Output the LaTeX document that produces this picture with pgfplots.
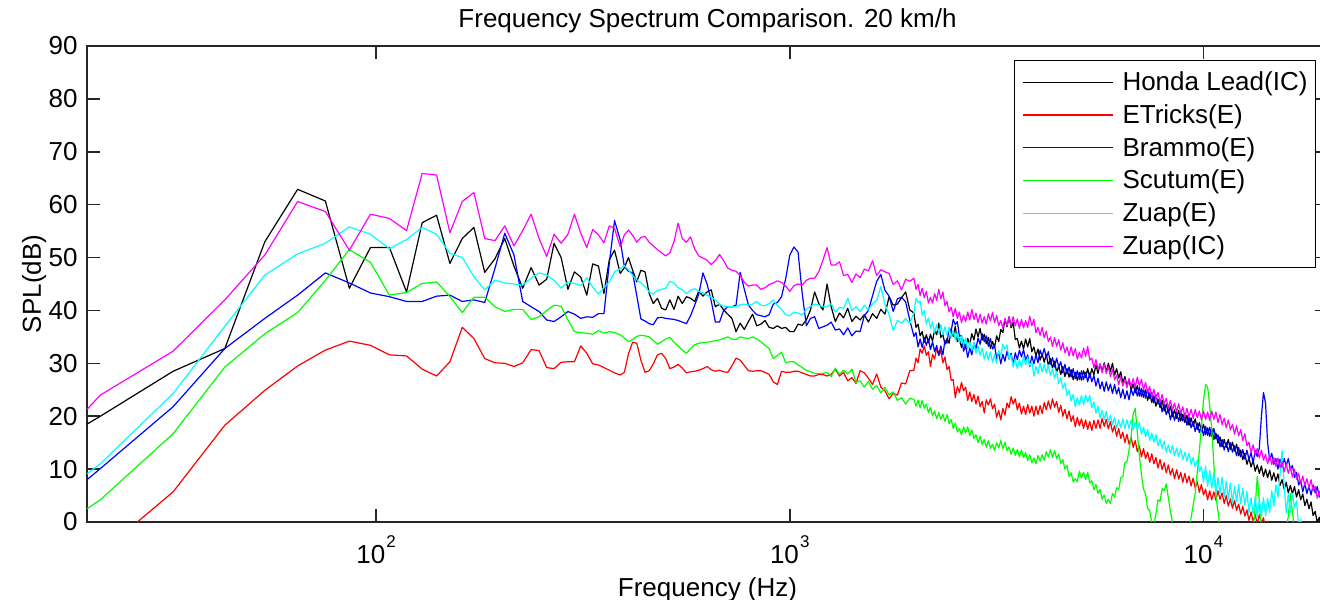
\documentclass[border=0pt]{standalone}
\usepackage{fontspec}
\setmainfont{Liberation Sans}
\usepackage{pgfplots}
\usepackage{pgfplotstable}
\pgfplotsset{compat=1.18}
\definecolor{mblack}{rgb}{0,0,0}
\definecolor{mred}{rgb}{1,0,0}
\definecolor{mblue}{rgb}{0,0,1}
\definecolor{mgreen}{rgb}{0,1,0}
\definecolor{mcyan}{rgb}{0,1,1}
\definecolor{mmagenta}{rgb}{1,0,1}

% lx = log10(frequency in Hz); values in dB
\pgfplotstableread{
lx bk rd bl gr cy mg
1.30103 18.5 -8.0 8.0 2.5 9.1 21.3
1.3333 20.0 -5.9 10.1 4.2 11.0 24.0
1.5092 28.5 5.7 21.8 16.7 24.3 32.3
1.6342 32.8 18.3 32.8 29.3 37.0 42.0
1.7310 53.0 24.9 38.5 35.6 46.7 50.5
1.8102 62.9 29.5 42.9 39.6 50.7 60.6
1.8772 60.7 32.5 47.1 45.7 52.7 58.7
1.9352 44.2 34.2 45.2 51.5 55.8 51.4
1.9863 51.9 33.4 43.3 49.1 54.4 58.2
2.0321 51.9 31.6 42.6 42.9 51.7 57.4
2.0735 43.5 31.4 41.7 43.4 53.4 55.1
2.1113 56.6 28.9 41.7 45.1 55.7 65.9
2.1461 58.0 27.6 42.7 45.4 54.4 65.6
2.1783 48.9 30.3 42.9 42.6 50.8 54.7
2.2082 53.6 36.8 41.7 39.6 50.0 60.6
2.2363 55.7 34.7 42.0 42.5 46.4 62.3
2.2625 47.2 30.9 41.5 42.5 43.9 53.6
2.2874 49.8 30.1 48.0 40.7 45.7 53.2
2.3109 53.6 30.0 54.6 39.8 45.2 56.0
2.3331 48.4 29.4 50.5 40.2 45.0 52.2
2.3543 44.2 30.1 41.7 40.2 44.8 55.1
2.3746 48.1 32.6 40.7 38.3 46.1 58.2
2.3939 44.8 32.4 39.8 38.8 47.1 53.6
2.4123 45.9 29.2 38.2 40.0 46.7 50.2
2.4301 52.7 29.0 37.9 41.0 45.7 54.4
2.4472 50.0 30.2 38.8 40.8 44.2 52.7
2.4636 44.0 30.3 39.8 38.2 45.4 54.4
2.4793 47.3 30.3 39.3 36.0 45.1 58.2
2.4946 46.3 33.3 38.5 35.8 44.7 54.6
2.5092 42.9 31.9 38.8 35.7 46.2 51.9
2.5235 48.8 29.9 38.7 35.5 44.4 55.3
2.5373 48.4 29.7 39.4 36.2 43.1 54.3
2.5507 43.2 29.2 39.4 35.7 44.3 52.8
2.5637 49.6 28.7 49.0 36.0 45.4 56.0
2.5763 51.4 28.2 57.0 35.8 47.3 55.5
2.59 47.0 27.8 53.3 35.4 47.9 52.0
2.60 48.1 28.3 48.3 34.8 48.5 54.3
2.61 50.0 31.8 47.4 34.1 47.7 55.2
2.62 47.6 34.0 47.1 34.5 46.6 54.2
2.63 45.4 33.8 42.8 35.1 45.8 52.9
2.64 47.6 30.6 38.4 35.3 45.2 53.8
2.65 47.3 28.3 38.0 35.2 44.5 54.0
2.66 43.2 28.6 37.5 35.0 43.5 52.9
2.67 41.3 29.9 37.3 34.3 43.1 52.2
2.68 42.3 31.6 38.6 33.6 43.8 51.5
2.69 40.4 31.9 38.7 34.1 44.0 50.9
2.70 40.1 30.9 38.5 34.6 44.2 50.3
2.71 42.0 29.0 38.4 34.9 45.5 50.9
2.72 40.2 29.3 38.3 34.0 45.2 53.0
2.73 42.7 29.8 38.1 33.3 44.3 56.5
2.74 41.3 29.1 37.8 32.5 43.9 53.6
2.75 42.6 28.2 37.5 31.9 43.2 52.9
2.76 42.3 28.4 39.0 32.8 43.8 53.9
2.77 41.7 28.5 41.0 33.5 44.1 51.6
2.78 43.7 28.7 43.1 33.8 43.6 50.3
2.79 42.7 29.0 47.1 33.9 43.3 49.9
2.80 43.5 29.4 45.0 34.0 42.9 49.5
2.81 43.9 28.8 41.8 34.1 42.5 48.7
2.82 40.7 28.5 37.8 34.3 42.0 49.4
2.83 41.2 28.7 37.8 34.4 41.1 50.6
2.84 40.1 28.4 40.0 34.7 40.8 49.4
2.85 39.3 28.3 40.7 35.0 40.7 48.0
2.86 38.5 29.5 40.7 34.6 40.7 47.6
2.87 36.0 31.0 41.0 34.5 40.7 47.4
2.88 37.6 30.6 47.2 35.0 41.1 46.6
2.89 36.4 29.6 44.0 34.8 41.2 45.3
2.90 37.9 28.6 41.0 34.7 41.0 44.6
2.91 39.3 28.5 40.0 35.0 41.2 44.8
2.92 37.1 28.6 39.2 34.6 41.7 44.8
2.93 37.4 28.6 39.0 34.1 41.0 44.0
2.94 38.1 28.3 38.8 33.4 40.9 44.3
2.95 36.8 27.9 39.2 32.8 41.3 44.9
2.96 36.6 26.5 41.2 30.9 42.0 45.2
2.97 37.1 26.0 41.5 31.5 40.9 45.6
2.98 36.6 28.5 42.6 32.1 40.2 45.3
2.99 36.8 28.3 46.0 30.1 39.2 44.6
3.00 36.0 28.3 50.5 30.3 39.0 43.6
3.01 36.0 28.5 52.0 30.3 39.7 44.7
3.02 37.4 28.5 51.0 29.7 39.5 45.0
3.03 37.2 28.2 43.2 29.2 39.2 44.8
3.04 38.2 27.9 37.1 28.7 40.2 45.7
3.05 40.1 27.6 38.5 28.4 40.8 46.1
3.06 43.5 27.6 38.8 28.1 41.2 46.1
3.07 41.3 27.9 36.6 28.1 41.0 47.3
3.08 40.1 27.9 36.9 28.1 40.7 49.5
3.09 45.0 27.6 37.2 28.3 40.7 51.9
3.10 40.7 27.9 37.8 27.5 41.3 48.6
3.11 37.9 28.9 36.3 29.1 39.7 48.6
3.12 39.5 27.6 36.5 27.9 40.6 49.2
3.13 38.6 28.3 35.4 28.7 40.4 46.6
3.14 40.4 26.7 36.7 28.0 42.3 46.8
3.15 37.9 27.3 35.2 28.9 40.0 45.3
3.16 38.9 26.2 36.1 26.4 40.7 46.9
3.17 38.2 28.6 36.0 26.7 39.8 46.2
3.18 39.2 28.2 39.0 25.5 41.0 47.8
3.19 37.8 27.2 40.0 26.6 40.1 47.5
3.20 39.4 26.0 42.8 25.1 41.3 49.4
3.21 38.5 28.0 45.5 25.8 41.9 46.6
3.22 40.2 25.5 46.8 24.4 44.5 47.7
3.23 39.3 24.8 43.8 25.5 41.2 47.3
3.24 42.6 23.3 42.7 24.0 39.2 47.0
3.25 41.0 24.3 39.8 24.6 36.2 44.9
3.26 41.2 24.0 42.2 23.0 38.1 45.6
3.27 42.4 26.3 42.5 23.5 37.6 43.9
3.28 43.5 26.1 41.6 22.3 38.5 45.9
3.29 40.1 28.6 38.2 23.4 37.5 45.5
3.300 39.5 28.7 35.1 23.2 39.6 46.1
3.305 36.8 31.0 35.8 21.9 42.3 44.0
3.310 37.4 30.1 33.1 23.0 41.5 44.9
3.315 35.2 32.7 34.6 21.6 41.8 42.8
3.320 36.0 31.9 33.0 23.0 39.1 44.2
3.325 34.0 33.3 34.9 21.5 40.0 42.4
3.330 35.4 31.5 33.4 22.3 37.4 43.6
3.335 33.9 32.2 34.6 20.7 38.6 41.4
3.340 35.5 29.4 32.6 21.7 36.6 42.5
3.345 34.2 31.7 34.1 20.1 37.9 41.4
3.350 36.3 30.8 32.2 21.0 35.8 43.2
3.355 35.4 32.9 33.4 19.5 37.3 41.9
3.360 37.6 31.5 31.5 20.7 35.7 44.0
3.365 34.9 32.4 33.3 19.4 37.3 42.2
3.370 35.5 30.1 31.6 20.4 35.4 43.5
3.375 33.6 31.2 34.3 19.0 36.9 40.9
3.380 34.7 28.8 33.8 20.3 35.3 41.7
3.385 33.8 29.4 36.7 18.6 36.8 39.7
3.390 36.3 26.8 36.1 19.4 34.9 40.6
3.395 35.1 26.9 38.3 17.7 36.2 38.8
3.400 37.0 23.5 37.3 18.7 34.5 40.4
3.405 34.1 25.6 37.9 17.0 35.9 38.5
3.410 34.6 24.5 35.1 17.7 33.8 39.7
3.415 33.0 26.4 35.3 16.5 35.2 37.7
3.420 34.4 24.8 32.3 18.0 33.4 39.1
3.425 32.9 25.5 33.4 16.8 34.8 37.9
3.430 34.7 23.0 31.1 18.0 32.7 39.7
3.435 33.6 24.6 32.9 16.3 34.1 38.2
3.440 35.6 22.8 31.6 17.4 32.4 40.2
3.445 34.4 24.1 33.9 15.8 33.9 38.3
3.450 36.5 22.3 32.8 16.5 31.9 39.5
3.455 35.0 23.8 34.8 15.0 33.3 37.7
3.460 36.6 21.8 33.6 16.2 31.5 39.3
3.465 34.4 22.8 35.6 14.7 32.9 37.6
3.470 35.5 20.6 34.1 15.6 30.8 38.8
3.475 33.7 23.1 35.2 14.1 32.2 37.4
3.480 34.9 22.1 33.2 15.4 30.6 39.4
3.485 32.8 23.3 34.7 13.9 32.2 38.0
3.490 34.1 21.4 32.7 14.7 30.2 39.6
3.495 33.1 22.3 33.4 13.5 31.7 37.7
3.500 35.2 19.8 30.9 15.0 30.0 39.1
3.505 34.1 21.1 32.1 14.0 32.4 37.1
3.510 36.4 19.3 29.9 15.4 31.4 38.1
3.515 35.8 21.5 31.7 13.9 33.6 36.6
3.520 38.3 20.2 30.4 15.1 32.7 38.5
3.525 36.9 22.5 32.3 13.5 33.5 37.1
3.530 38.8 21.6 30.8 14.2 30.8 38.8
3.535 36.7 23.7 31.9 12.8 31.6 37.1
3.540 37.7 22.3 29.8 14.0 29.3 38.8
3.545 34.5 23.3 32.0 12.6 30.9 37.1
3.550 34.7 21.2 30.7 13.7 29.0 38.4
3.555 32.9 22.5 32.5 12.3 30.7 36.6
3.560 34.2 20.4 31.2 13.6 29.3 38.3
3.565 32.7 21.9 32.6 12.2 31.3 36.7
3.570 34.6 20.3 30.6 13.1 29.7 38.1
3.575 33.1 22.2 31.6 11.6 31.2 36.8
3.580 34.7 20.6 29.4 12.7 29.6 38.9
3.585 32.2 21.9 31.4 11.2 30.3 37.1
3.590 33.1 20.0 29.9 12.1 27.6 38.3
3.595 31.4 21.9 31.6 11.0 29.4 35.8
3.600 32.7 20.3 30.1 12.6 28.1 36.8
3.605 30.6 22.0 32.5 11.5 30.0 35.3
3.610 31.8 20.5 31.4 12.7 28.4 36.8
3.615 30.2 22.6 32.8 11.7 29.9 34.8
3.620 31.7 21.2 31.1 13.3 28.2 36.1
3.625 29.6 22.9 32.2 12.3 29.7 34.1
3.630 30.9 21.4 29.8 13.7 27.7 35.0
3.635 29.1 23.3 31.1 12.2 29.0 33.2
3.640 30.4 21.7 29.3 13.5 27.2 34.9
3.645 28.3 22.8 31.0 12.0 28.5 33.2
3.650 29.5 20.7 29.3 12.9 26.2 34.5
3.655 27.9 22.1 30.3 11.0 27.3 32.5
3.660 29.4 20.0 28.2 11.8 25.3 33.9
3.665 27.5 21.3 29.8 10.0 26.3 32.0
3.670 29.0 19.5 28.0 10.7 23.9 33.1
3.675 27.4 21.0 29.3 8.6 24.9 31.4
3.680 28.8 19.0 27.4 9.3 22.9 33.1
3.685 26.9 20.1 29.0 7.6 24.1 31.4
3.690 28.3 18.0 27.1 8.2 21.8 32.8
3.695 26.8 19.8 28.6 7.6 23.5 30.8
3.700 28.3 18.2 26.9 9.6 22.1 32.1
3.705 26.8 19.5 28.6 8.3 23.9 31.0
3.710 28.6 17.7 26.9 9.4 22.2 32.9
3.715 27.3 19.3 28.3 8.0 24.0 31.3
3.720 29.0 17.5 26.5 9.4 22.7 33.2
3.725 27.3 19.0 28.2 7.4 23.9 30.6
3.730 29.0 17.3 26.5 7.8 21.6 31.0
3.735 27.8 19.2 27.7 6.1 22.7 29.2
3.740 29.7 17.7 25.7 7.1 20.6 30.7
3.745 28.1 19.3 27.2 5.4 21.9 28.8
3.750 29.9 17.7 25.2 6.2 19.7 29.9
3.755 28.5 19.6 26.5 4.3 21.1 28.2
3.760 30.1 18.1 24.7 5.1 19.4 29.9
3.765 28.4 19.4 26.5 3.5 20.9 28.1
3.770 30.0 17.6 24.8 4.3 18.9 29.4
3.775 28.5 19.0 26.1 3.5 20.2 27.5
3.780 30.0 17.0 24.3 5.4 18.4 28.9
3.785 27.8 18.2 26.0 4.7 19.8 26.9
3.790 29.0 16.2 24.2 6.5 17.7 27.8
3.795 27.2 17.7 25.4 6.1 19.3 25.9
3.800 28.4 15.8 23.5 8.4 17.8 27.5
3.805 26.3 17.0 25.1 8.6 19.5 25.7
3.810 27.5 15.0 23.3 11.2 17.7 27.0
3.815 25.7 16.6 24.8 11.4 19.3 25.4
3.820 27.0 14.7 23.1 13.6 17.7 27.1
3.825 24.9 16.0 25.2 16.0 19.3 25.6
3.830 26.1 14.1 23.9 20.5 17.4 27.1
3.835 24.4 15.4 25.4 21.5 18.9 25.5
3.840 25.8 13.3 23.8 17.0 17.4 27.4
3.845 23.8 14.4 25.5 12.5 18.8 25.7
3.850 25.2 12.3 23.7 9.0 16.6 27.0
3.855 23.6 13.9 25.1 6.2 17.9 25.0
3.860 25.0 12.0 23.4 5.3 16.1 26.4
3.865 23.0 13.2 25.1 2.5 17.5 24.5
3.870 24.4 11.3 23.3 2.2 15.4 25.6
3.875 22.6 12.9 24.5 -0.1 16.8 23.6
3.880 23.9 11.0 22.5 -0.5 15.1 25.1
3.885 21.9 12.2 24.1 1.5 16.5 23.3
3.890 23.2 10.2 22.3 4.2 14.4 24.5
3.895 21.6 11.8 23.1 3.9 15.7 22.6
3.900 23.0 9.9 20.8 6.3 13.9 24.1
3.905 21.0 11.2 22.3 5.9 15.3 22.3
3.910 22.3 9.3 20.3 7.2 13.2 23.4
3.915 20.6 10.8 21.4 4.6 14.6 21.5
3.920 21.9 8.9 19.3 2.0 13.0 23.0
3.925 19.9 10.1 21.0 0.0 14.5 21.2
3.930 21.2 8.2 19.2 -2.0 12.5 22.5
3.935 19.6 9.9 20.7 -3.0 14.0 20.8
3.940 21.1 8.1 19.0 -4.0 12.3 22.4
3.945 19.1 9.4 20.8 -4.0 13.8 20.6
3.950 20.4 7.5 19.1 -4.0 11.8 21.8
3.955 18.8 9.2 20.3 -3.5 13.2 19.9
3.960 20.2 7.4 18.3 -3.0 11.5 21.5
3.965 18.3 8.7 19.8 -1.1 13.0 19.9
3.970 19.7 6.8 17.8 0.8 10.9 21.3
3.975 18.1 8.3 19.0 3.2 12.2 19.6
3.980 19.5 6.4 17.1 5.5 10.4 21.3
3.985 17.5 7.6 18.7 9.5 11.7 19.7
3.990 18.8 5.6 16.9 13.5 9.5 21.0
3.995 17.1 7.1 18.2 18.0 10.5 19.3
4.000 18.5 5.1 16.3 23.0 7.5 21.0
4.005 16.5 6.2 18.1 26.0 10.6 19.4
4.010 17.8 4.2 16.4 25.5 6.7 20.8
4.015 16.2 5.9 17.9 22.0 9.7 19.2
4.020 17.7 4.2 16.2 17.5 6.4 21.0
4.025 15.6 5.7 17.7 11.0 9.3 19.4
4.030 16.8 4.1 15.7 5.0 5.4 20.8
4.035 14.9 5.9 16.5 2.0 8.4 18.8
4.040 16.1 4.3 14.2 -1.0 5.3 20.3
4.045 14.2 5.5 15.6 -3.0 8.5 18.4
4.050 15.6 3.5 13.6 -4.0 4.7 19.6
4.055 14.1 5.0 15.0 -5.0 7.7 17.8
4.060 15.6 3.0 13.3 -5.0 4.4 19.3
4.065 13.7 4.4 15.0 -5.0 7.4 17.4
4.070 15.1 2.6 13.2 -5.0 3.6 18.5
4.075 13.4 4.1 14.4 -5.0 6.7 16.6
4.080 14.7 2.2 12.5 -5.0 3.8 18.2
4.085 12.5 3.4 14.1 -5.0 7.1 16.3
4.090 13.6 1.5 12.3 -5.0 3.4 17.5
4.095 11.8 3.0 13.7 -5.0 6.4 15.4
4.100 13.0 1.1 11.9 -5.0 3.1 16.7
4.105 10.9 2.3 13.6 -5.0 5.8 14.4
4.110 12.1 0.3 11.8 -5.0 1.7 15.1
4.115 10.4 1.9 13.1 -5.0 4.6 13.1
4.120 11.7 0.1 11.2 -2.0 1.5 14.6
4.125 9.6 1.4 13.5 3.0 4.8 12.7
4.130 10.8 -0.4 12.4 8.6 1.0 13.9
4.135 9.2 1.4 14.0 4.0 4.2 12.1
4.140 10.6 -0.3 20.0 -2.0 1.2 13.6
4.145 8.6 0.8 24.5 -5.0 4.6 11.7
4.150 10.0 -1.2 22.5 -5.0 1.1 12.8
4.155 8.4 0.1 15.0 -5.0 4.5 11.0
4.160 9.8 -2.0 11.7 -5.0 1.8 12.6
4.165 7.9 -1.1 13.0 -5.0 5.9 10.9
4.170 9.3 -3.3 10.9 -5.0 3.0 12.2
4.175 7.7 -1.8 12.0 -5.0 7.0 10.5
4.180 9.1 -3.6 10.0 -5.0 4.7 12.1
4.185 6.9 -2.4 11.9 -5.0 9.0 10.3
4.190 8.0 -4.2 10.3 -5.0 13.5 11.4
4.195 6.2 -2.7 12.0 -5.0 7.0 9.5
4.200 7.5 -4.5 10.6 -1.0 1.7 11.0
4.205 5.5 -3.4 12.0 1.0 5.3 9.2
4.210 6.9 -5.3 9.9 5.4 1.8 10.4
4.215 5.3 -3.8 10.7 2.0 5.4 8.5
4.220 6.7 -5.6 8.4 -2.0 2.8 10.0
4.225 4.7 -4.1 9.4 -5.0 4.0 8.1
4.230 6.1 -5.7 7.0 -5.0 -1.0 9.2
4.235 4.2 -3.9 7.9 -5.0 0.5 7.2
4.240 5.3 -5.5 5.7 -5.0 -2.4 8.7
4.245 3.1 -4.1 7.3 -5.0 -1.5 6.9
4.250 4.3 -5.8 5.4 -5.0 -4.0 8.2
4.255 2.5 -4.0 6.8 -5.0 -2.9 6.4
4.260 3.8 -5.6 5.1 -5.0 -4.9 8.0
4.265 1.2 -4.1 7.0 -5.0 -3.8 5.9
4.270 2.0 -5.7 5.5 -5.0 -6.1 6.7
4.275 -0.1 -3.9 6.7 -5.0 -4.5 4.5
4.280 0.9 -5.5 4.7 -5.0 -5.9 5.8
4.285 -1.5 -4.1 6.3 -5.0 -4.2 3.8
4.290 -0.5 -5.8 4.4 -5.0 -6.0 4.9
4.295 -2.4 -4.0 5.7 -5.0 -4.4 3.1
4.300 -1.2 -5.6 3.8 -5.0 -5.9 4.6
4.305 -3.5 -4.1 5.4 -5.0 -4.3 2.8
}\spectrum

\begin{document}
\fontsize{13}{15}\selectfont
\begin{tikzpicture}
\useasboundingbox (0,0) rectangle (660pt,299.5pt);
\begin{axis}[
  at={(43.5pt,38.5pt)}, anchor=south west,
  scale only axis, width=620.5pt, height=238pt,
  xmin=1.30103, xmax=4.30103, ymin=0, ymax=90,
  xtick={2,3,4},
  xticklabels={10\hspace{0.6pt}\raisebox{8pt}{\fontsize{8.5}{8.5}\selectfont 2},
               10\hspace{0.6pt}\raisebox{8pt}{\fontsize{8.5}{8.5}\selectfont 3},
               10\hspace{0.6pt}\raisebox{8pt}{\fontsize{8.5}{8.5}\selectfont 4}},
  ytick={0,10,...,90},
  minor tick num=0,
  tick align=inside,
  major tick length=6.5pt,
  axis line style={line width=0.75pt, black!85},
  every tick/.style={black!85, line width=0.75pt},
  /pgf/number format/assume math mode=true,
  tick label style={font=\fontsize{13}{15}\selectfont, black},
  yticklabel style={anchor=east, inner sep=0pt, xshift=-4.5pt},
  xticklabel style={anchor=base, inner sep=0pt, yshift=-20.5pt},
  title={Frequency Spectrum Comparison. 20 km/h},
  every axis title/.style={at={(0.5,1)}, anchor=base, yshift=9.5pt, inner sep=0pt, font=\fontsize{13}{15}\selectfont},
  xlabel={Frequency (Hz)},
  xlabel style={at={([yshift=-37pt]axis description cs:0.5,0)}, anchor=base, inner sep=0pt, font=\fontsize{13}{15}\selectfont},
  ylabel={SPL(dB)},
  ylabel style={at={([xshift=-23pt]axis description cs:0,0.5)}, anchor=base, inner sep=0pt, font=\fontsize{13}{15}\selectfont},
  legend cell align=left,
  legend style={at={([xshift=-6pt,yshift=-7pt]axis description cs:1,1)}, anchor=north east,
    draw=black, line width=0.5pt, fill=white, font=\fontsize{13}{15}\selectfont,
    inner xsep=4pt, inner ysep=5.7pt, row sep=6.1pt, column sep=4.5pt,
    nodes={inner sep=0pt, text height=9.3pt, text depth=1pt}},
  legend image code/.code={\path (-4pt,0pt) -- (41pt,0pt); \draw[#1] (0pt,0pt) -- (41pt,0pt);},
  every axis plot/.append style={line width=0.6pt, line join=round},
  clip=true,
]
\addplot[mblack] table[x=lx, y=bk]{\spectrum};
\addlegendentry{Honda Lead(IC)}
\addplot[mred] table[x=lx, y=rd]{\spectrum};
\addlegendentry{ETricks(E)}
\addplot[mblue] table[x=lx, y=bl]{\spectrum};
\addlegendentry{Brammo(E)}
\addplot[mgreen] table[x=lx, y=gr]{\spectrum};
\addlegendentry{Scutum(E)}
\addplot[mcyan] table[x=lx, y=cy]{\spectrum};
\addlegendentry{Zuap(E)}
\addplot[mmagenta] table[x=lx, y=mg]{\spectrum};
\addlegendentry{Zuap(IC)}
\end{axis}
\end{tikzpicture}
\end{document}
